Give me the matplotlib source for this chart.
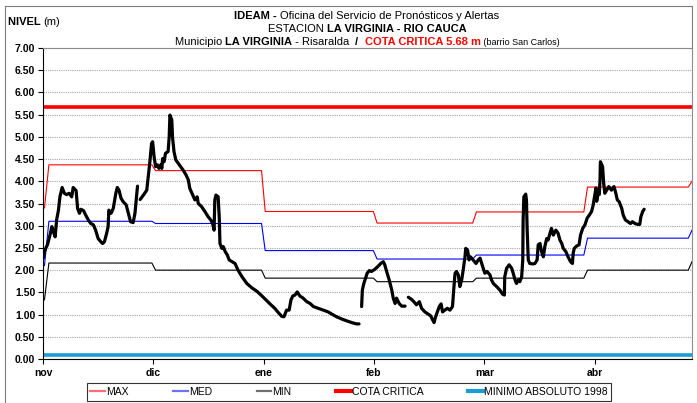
import numpy as np
import matplotlib
matplotlib.use("Agg")
import matplotlib.pyplot as plt
from matplotlib.lines import Line2D

# ---------------------------------------------------------------- datos
# eje x: dias desde el 1 de noviembre (cada mes = 30 dias en el eje de categorias)
month_pos = [0, 30, 60, 90, 120, 150]
month_labels = ["nov", "dic", "ene", "feb", "mar", "abr"]

# curvas de referencia (MAX, MED, MIN)
ref_day = [0, 0.4, 1.6, 29.6, 30.6, 59.4, 60.4, 89.8, 90.8, 116.8, 117.8, 147.0, 148.0, 175.4, 176.4]
max_lev = [3.40, 3.40, 4.37, 4.37, 4.24, 4.24, 3.32, 3.32, 3.06, 3.06, 3.31, 3.31, 3.87, 3.87, 4.00]
med_lev = [2.10, 2.10, 3.10, 3.10, 3.05, 3.05, 2.44, 2.44, 2.25, 2.25, 2.34, 2.34, 2.72, 2.72, 2.90]
min_lev = [1.33, 1.33, 2.16, 2.16, 2.00, 2.00, 1.82, 1.82, 1.74, 1.74, 1.82, 1.82, 2.00, 2.00, 2.19]

cota_critica = 5.68
minimo_1998 = 0.10

# nivel observado (4 tramos, con huecos entre ellos)
a_day = [0.1, 0.5, 1.2, 1.9, 2.4, 2.8, 3.3, 3.7, 4.2, 4.6, 5.2, 5.8, 6.4, 7.1, 7.8, 8.2, 9.0, 9.4, 9.9, 10.3,
         11.0, 11.6, 12.3, 13.0, 13.7, 14.3, 15.0, 15.7, 16.2, 16.7, 17.3, 17.7, 17.9, 18.5, 19.1, 19.8, 20.2,
         20.7, 21.2, 21.8, 22.6, 23.2, 23.8, 24.5, 25.0, 25.5, 25.7]
a_lev = [2.27, 2.45, 2.57, 2.79, 2.98, 2.87, 2.75, 3.13, 3.35, 3.65, 3.86, 3.73, 3.70, 3.73, 3.65, 3.86, 3.79, 3.39,
         3.28, 3.37, 3.34, 3.24, 3.13, 3.05, 3.02, 2.90, 2.71, 2.64, 2.60, 2.64, 2.83, 2.98, 3.35, 3.28, 3.39, 3.73,
         3.86, 3.79, 3.62, 3.54, 3.47, 3.28, 3.09, 3.07, 3.28, 3.73, 3.89]

b_day = [26.4, 27.3, 28.2, 28.6, 29.1, 29.5, 29.8, 30.2, 30.6, 31.1, 31.5, 32.0, 32.3, 32.5, 32.9, 33.3, 34.0, 34.3,
         34.5, 35.0, 35.2, 35.6, 36.1, 36.8, 37.4, 38.1, 38.9, 39.5, 39.9, 40.7, 41.3, 41.9, 42.2, 43.1, 44.0, 44.9,
         45.6, 46.1, 46.5, 46.7, 47.0, 47.6, 47.9, 48.1, 48.6, 49.0, 49.5, 50.1, 50.6, 52.2, 53.0, 54.1, 55.4, 56.8,
         58.2, 59.5, 60.6, 61.7, 63.0, 63.9, 64.9, 65.5, 66.2, 66.9, 67.4, 67.9, 68.5, 69.1, 69.8, 70.7, 71.7, 72.6,
         73.5, 74.8, 76.2, 77.5, 78.5, 79.8, 81.2, 82.5, 83.9, 85.2, 85.9]
b_lev = [3.59, 3.69, 3.80, 4.10, 4.48, 4.85, 4.89, 4.55, 4.33, 4.37, 4.29, 4.37, 4.29, 4.51, 4.44, 4.63, 4.67, 5.00,
         5.49, 5.38, 5.00, 4.67, 4.48, 4.40, 4.33, 4.25, 4.14, 4.03, 3.84, 3.69, 3.58, 3.65, 3.50, 3.43, 3.32, 3.20,
         3.13, 3.05, 2.90, 3.58, 3.69, 3.65, 3.20, 2.60, 2.49, 2.53, 2.42, 2.34, 2.23, 2.15, 2.00, 1.85, 1.70, 1.60,
         1.52, 1.42, 1.33, 1.24, 1.14, 1.05, 0.96, 0.95, 1.10, 1.10, 1.33, 1.42, 1.44, 1.51, 1.42, 1.37, 1.29, 1.25,
         1.18, 1.14, 1.10, 1.06, 1.01, 0.95, 0.90, 0.86, 0.82, 0.79, 0.79]

c_day = [86.6, 86.8, 87.2, 87.8, 88.1, 88.7, 89.3, 90.2, 91.1, 91.8, 92.5, 92.9, 93.4, 94.1, 94.8, 95.2, 95.7, 96.1,
         96.8, 97.5, 98.4]
c_lev = [1.18, 1.55, 1.70, 1.85, 1.93, 1.99, 1.97, 2.02, 2.09, 2.15, 2.19, 2.12, 1.97, 1.78, 1.55, 1.37, 1.25, 1.37,
         1.25, 1.19, 1.19]

d_day = [99.3, 100.2, 100.8, 101.5, 102.3, 102.9, 103.8, 104.7, 105.4, 105.9, 106.3, 106.6, 107.1, 107.7, 108.2,
         108.6, 109.2, 109.9, 110.6, 111.3, 111.7, 112.0, 112.4, 112.9, 113.3, 113.8, 114.2, 114.7, 114.9, 115.4,
         115.8, 116.2, 116.9, 117.7, 118.3, 118.8, 119.5, 120.1, 120.7, 121.5, 121.9, 122.4, 123.3, 124.2, 124.9,
         125.4, 125.5, 126.0, 126.7, 127.4, 127.8, 128.3, 128.7, 129.2, 129.6, 130.1, 130.4, 130.5, 130.7, 131.2,
         131.4, 131.6, 131.9, 132.3, 133.1, 133.7, 134.3, 134.6, 135.1, 135.5, 136.0, 136.4, 136.9, 137.3, 137.8,
         138.2, 138.7, 139.4, 140.0, 140.5, 141.0, 141.4, 142.1, 142.7, 143.4, 143.9, 144.1, 144.4, 145.0, 145.7,
         146.1, 146.7, 147.3, 147.9, 148.5, 149.1, 149.5, 150.0, 150.3, 150.5, 150.9, 151.2, 151.4, 151.5, 152.1,
         152.4, 152.7, 153.2, 153.8, 154.5, 155.2, 155.7, 156.1, 156.6, 157.3, 157.7, 158.3, 159.0, 159.7, 160.2,
         160.9, 161.6, 162.2, 162.5, 163.0, 163.4]
d_lev = [1.39, 1.34, 1.29, 1.22, 1.29, 1.14, 1.06, 1.01, 0.97, 0.88, 0.82, 0.92, 1.04, 1.18, 1.24, 1.06, 1.10, 1.14,
         1.10, 1.18, 1.63, 1.93, 1.97, 1.89, 1.63, 1.78, 2.00, 2.30, 2.49, 2.45, 2.23, 2.30, 2.23, 2.15, 2.23, 2.27,
         2.08, 1.93, 1.97, 1.89, 1.78, 1.70, 1.63, 1.55, 1.46, 1.44, 1.85, 2.04, 2.12, 2.04, 1.93, 1.78, 1.70, 1.78,
         1.74, 1.85, 2.23, 3.13, 3.65, 3.71, 3.58, 2.90, 2.23, 2.15, 2.14, 2.15, 2.23, 2.57, 2.60, 2.42, 2.30, 2.53,
         2.71, 2.68, 2.83, 2.94, 2.79, 2.90, 2.83, 2.68, 2.60, 2.49, 2.42, 2.30, 2.19, 2.15, 2.38, 2.49, 2.54, 2.57,
         2.79, 2.94, 3.02, 3.17, 3.24, 3.32, 3.45, 3.70, 3.85, 3.55, 3.75, 3.70, 4.03, 4.44, 4.33, 3.95, 3.73, 3.80,
         3.88, 3.80, 3.88, 3.73, 3.58, 3.54, 3.39, 3.24, 3.13, 3.09, 3.05, 3.09, 3.05, 3.03, 3.03, 3.20, 3.32, 3.37]

# ---------------------------------------------------------------- figura
NARROW = ["Liberation Sans Narrow", "Liberation Sans", "DejaVu Sans"]
ARIAL = ["Liberation Sans", "DejaVu Sans"]
W, H = 697, 403

fig = plt.figure(figsize=(W / 100, H / 100), dpi=100)
ax = fig.add_axes([43 / W, 1 - 359 / H, (692 - 43) / W, (359 - 48) / H])

x_end = 176.4
ax.set_xlim(0, x_end)
ax.set_ylim(0, 7)

# rejilla punteada
ax.set_yticks(np.arange(0, 7.01, 0.5))
ax.yaxis.grid(True, color="#a6a6a6", linestyle=(0, (1, 1)), linewidth=0.8)
ax.set_axisbelow(True)

ax.plot(ref_day, max_lev, color="#ff0000", lw=0.8, label="MAX")
ax.plot(ref_day, med_lev, color="#0000ff", lw=0.8, label="MED")
ax.plot(ref_day, min_lev, color="#000000", lw=0.8, label="MIN")
ax.axhline(cota_critica, color="#ff0000", lw=2.6, label="COTA CRITICA")
ax.axhline(minimo_1998, color="#1a9cd8", lw=2.6, label="MINIMO ABSOLUTO 1998")

for dd, ll in [(a_day, a_lev), (b_day, b_lev), (c_day, c_lev), (d_day, d_lev)]:
    ax.plot(dd, ll, color="black", lw=2.3, solid_joinstyle="round", solid_capstyle="round")

# ejes
ax.set_xticks(month_pos)
ax.set_xticklabels(month_labels, fontweight="bold", fontsize=7.5, family=ARIAL)
ax.set_yticklabels([f"{v:.2f}" for v in np.arange(0, 7.01, 0.5)], fontweight="bold", fontsize=7.5, family=ARIAL)
ax.tick_params(axis="both", direction="out", length=3.5, width=0.8, pad=2)
ax.tick_params(axis="x", pad=3)
ax.spines["top"].set_color("#8c8c8c")
ax.spines["right"].set_color("#8c8c8c")
for s in ax.spines.values():
    s.set_linewidth(0.8)

# marco exterior
fig.add_artist(Line2D([5 / W, 5 / W], [0, 1 - 6 / H], color="#7f7f7f", lw=0.8))
fig.add_artist(Line2D([5 / W, 692 / W], [1 - 6 / H, 1 - 6 / H], color="#7f7f7f", lw=0.8))
fig.add_artist(Line2D([692 / W, 692 / W], [1 - 6 / H, 1 - 48 / H], color="#7f7f7f", lw=0.8))

# leyenda
handles = [Line2D([], [], color="#ff7070", lw=1.6), Line2D([], [], color="#7070ff", lw=1.6),
           Line2D([], [], color="#707070", lw=1.6), Line2D([], [], color="#ff0000", lw=3),
           Line2D([], [], color="#1a9cd8", lw=3)]
labels = ["MAX", "MED", "MIN", "COTA CRITICA", "MINIMO ABSOLUTO 1998"]
leg = fig.legend(handles, labels, loc="center", bbox_to_anchor=((84 + 614) / 2 / W, 1 - 392 / H),
                 ncol=5, prop={"family": NARROW, "size": 7.5}, frameon=True, fancybox=False,
                 edgecolor="black", handlelength=1.4, handletextpad=0.1, columnspacing=4.3,
                 borderpad=0.35)
leg.get_frame().set_linewidth(0.8)


# titulo con estilos mezclados
def rich_line(y_px, pieces, cx_px=367, x0_px=None, family=NARROW):
    renderer = fig.canvas.get_renderer()
    items = []
    for s, w, c, fs in pieces:
        t = fig.text(0, 1 - y_px / H, s, fontweight=w, color=c, fontsize=fs, family=family, va="baseline")
        items.append((t, t.get_window_extent(renderer).width))
    total = sum(wd for _, wd in items)
    x = cx_px - total / 2 if x0_px is None else x0_px
    for t, wd in items:
        t.set_x(x / W)
        x += wd


rich_line(19, [("IDEAM - ", "bold", "black", 8), ("Oficina del Servicio de Pronósticos y Alertas", "normal", "black", 8)])
rich_line(32, [("ESTACION ", "normal", "black", 8), ("LA VIRGINIA - RIO CAUCA", "bold", "black", 8)])
rich_line(45, [("Municipio ", "normal", "black", 8), ("LA VIRGINIA", "bold", "black", 8),
               (" - Risaralda  ", "normal", "black", 8), ("/  ", "bold", "black", 8),
               ("COTA CRITICA 5.68 m", "bold", "#ff0000", 8), (" (barrio San Carlos)", "normal", "black", 6.5)])

rich_line(25, [("NIVEL ", "bold", "black", 8), ("(m)", "normal", "black", 8)], x0_px=8, family=ARIAL)

fig.savefig("out.png", dpi=100)
